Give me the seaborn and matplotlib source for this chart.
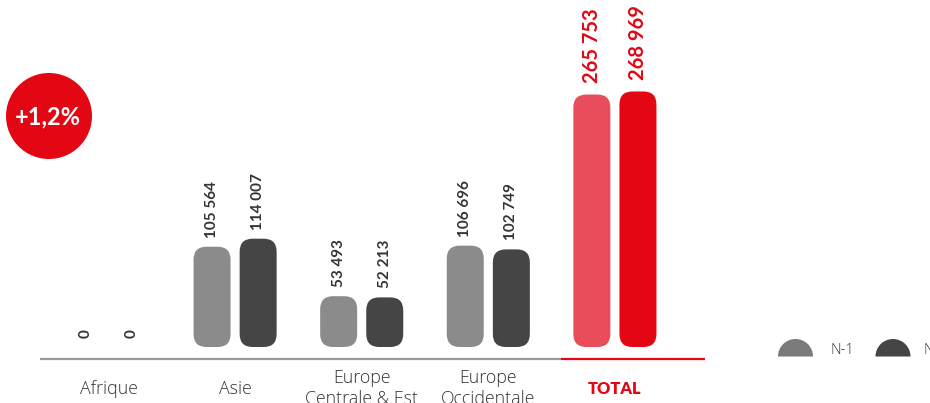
import matplotlib
matplotlib.use("Agg")
import matplotlib.pyplot as plt
from matplotlib.patches import FancyBboxPatch, Circle, Wedge
import seaborn as sns
import pandas as pd

# Data
regions = ["Afrique", "Asie", "Europe\nCentrale & Est", "Europe\nOccidentale", "TOTAL"]
periods = ["N-1", "N"]
previous = [0, 105564, 53493, 106696, 265753]
current = [0, 114007, 52213, 102749, 268969]
growth_label = "+1,2%"

# Colours
GREY_PREV = "#8b8b8b"
GREY_CUR = "#454545"
RED_PREV = "#e94d5b"
RED_CUR = "#e30613"
TEXT = "#333333"

sns.set_theme(style="white")
plt.rcParams["font.family"] = ["Lato", "DejaVu Sans"]
LABEL_FONT = ["Open Sans", "DejaVu Sans"]

W, H = 930, 403
fig = plt.figure(figsize=(W / 100, H / 100), dpi=100)
fig.patch.set_facecolor("white")
ax = fig.add_axes([0, 0, 1, 1])

df = pd.DataFrame({
    "region": regions * 2,
    "period": [periods[0]] * len(regions) + [periods[1]] * len(regions),
    "value": previous + current,
})

sns.barplot(data=df, x="region", y="value", hue="period", order=regions,
            hue_order=periods, palette=[GREY_PREV, GREY_CUR], width=0.728,
            saturation=1, legend=False, ax=ax)

# pixel layout of the plotting area
x0_px, step_px = 108.5, 126.6        # first category centre, spacing
base_px, px_per_unit = 347, 0.00095  # bar baseline, vertical scale
ax.set_xlim(-x0_px / step_px, (W - x0_px) / step_px)
ax.set_ylim(-(H - base_px) / px_per_unit, base_px / px_per_unit)
ax.axis("off")

bar_w = 37 / step_px
radius = 13 / step_px
aspect = step_px / px_per_unit

for p in list(ax.patches):
    cx = p.get_x() + p.get_width() / 2
    h = p.get_height()
    idx = int(round(cx))
    is_prev = cx < idx
    fc = p.get_facecolor()
    p.remove()
    total = regions[idx] == "TOTAL"
    if total:
        fc = RED_PREV if is_prev else RED_CUR
    if h > 0:
        ax.add_patch(FancyBboxPatch(
            (cx - bar_w / 2, 0), bar_w, h,
            boxstyle=f"round,pad=0,rounding_size={radius}",
            mutation_aspect=aspect, facecolor=fc, edgecolor="none", zorder=2))
    label = f"{int(h):,}".replace(",", " ")
    ax.annotate(label, xy=(cx, h), xytext=(0, 6.5 if not total else 8),
                textcoords="offset points",
                rotation=90, ha="center", va="bottom",
                fontsize=14.5 if total else 11, fontweight="bold",
                color=RED_CUR if total else TEXT)

# category labels under the axis line
for i, name in enumerate(regions):
    total = name == "TOTAL"
    ax.text(i, 1 - 388.5 / H, name, transform=ax.get_xaxis_transform(),
            ha="center", va="center", linespacing=1.25,
            fontsize=12.8 if not total else 11.8,
            family=["Lato", "DejaVu Sans"] if total else LABEL_FONT,
            fontweight="heavy" if total else "light",
            color=RED_CUR if total else TEXT)

# overlay in pixel coordinates for the baseline, badge and legend
ov = fig.add_axes([0, 0, 1, 1], zorder=3)
ov.set_xlim(0, W)
ov.set_ylim(H, 0)
ov.axis("off")
ov.patch.set_alpha(0)

ov.plot([40, 561], [359, 359], color="#9a9a9a", lw=1.6, solid_capstyle="butt")
ov.plot([561, 705], [359, 359], color=RED_CUR, lw=1.6, solid_capstyle="butt")

ov.add_patch(Circle((49, 116), 43, facecolor=RED_CUR, edgecolor="none"))
ov.text(48, 117, growth_label, color="white", fontsize=17, fontweight="bold",
        ha="center", va="center")

for cx, col, lab, tx in [(795.5, "#7a7a7a", periods[0], 830),
                         (893, GREY_CUR, periods[1], 923)]:
    ov.add_patch(Wedge((cx, 356.5), 17.5, 180, 360, facecolor=col, edgecolor="none"))
    ov.text(tx, 350, lab, ha="left", va="center", fontsize=10.5,
            family=LABEL_FONT, fontweight="light", color=TEXT)

fig.savefig("out.png", dpi=100, facecolor="white")
